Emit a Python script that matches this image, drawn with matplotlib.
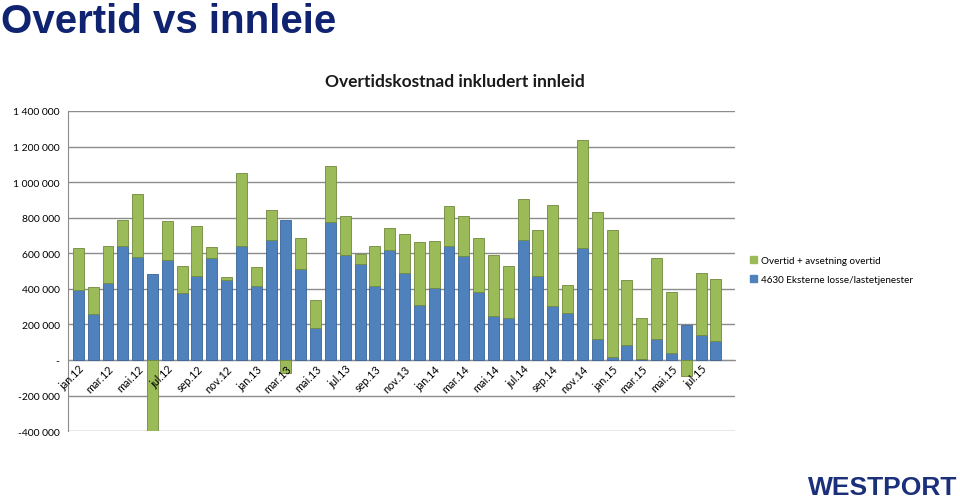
import matplotlib
matplotlib.use("Agg")
import matplotlib.pyplot as plt
import numpy as np
from matplotlib.patches import Patch

months = ["jan.12","feb.12","mar.12","apr.12","mai.12","jun.12","jul.12","aug.12","sep.12","okt.12","nov.12","des.12",
          "jan.13","feb.13","mar.13","apr.13","mai.13","jun.13","jul.13","aug.13","sep.13","okt.13","nov.13","des.13",
          "jan.14","feb.14","mar.14","apr.14","mai.14","jun.14","jul.14","aug.14","sep.14","okt.14","nov.14","des.14",
          "jan.15","feb.15","mar.15","apr.15","mai.15","jun.15","jul.15","aug.15"]

eksterne = [396000, 256000, 435000, 639000, 579000, 486000, 561000, 378000, 471000, 574000, 449000, 639000,
            415000, 673000, 785000, 512000, 178000, 776000, 592000, 542000, 417000, 620000, 492000, 307000,
            406000, 643000, 583000, 381000, 249000, 234000, 677000, 471000, 305000, 264000, 632000, 116000,
            19000, 84000, 6000, 116000, 39000, 198000, 142000, 107000]

overtid = [234000, 155000, 204000, 150000, 355000, -400000, 218000, 151000, 284000, 62000, 19000, 415000,
           108000, 168000, -71000, 176000, 162000, 312000, 215000, 52000, 226000, 124000, 218000, 357000,
           263000, 222000, 224000, 305000, 344000, 293000, 228000, 258000, 564000, 155000, 607000, 718000,
           710000, 368000, 228000, 460000, 342000, -88000, 346000, 351000]

yticks = [-400000, -200000, 0, 200000, 400000, 600000, 800000, 1000000, 1200000, 1400000]
ytick_labels = ["-400 000", "-200 000", "-", "200 000", "400 000", "600 000", "800 000",
                "1 000 000", "1 200 000", "1 400 000"]

legend_labels = ["Overtid + avsetning overtid", "4630 Eksterne losse/lastetjenester"]

BLUE = "#4F81BD"
GREEN = "#9BBB59"
NAVY = "#0F2370"
FONT = ["Lato", "DejaVu Sans"]

fig = plt.figure(figsize=(9.6, 5.02), dpi=100)
ax = fig.add_axes([0.0708, 0.139, 0.695, 0.638])

x = np.arange(len(months))
eks = np.array(eksterne, dtype=float)
ovt = np.array(overtid, dtype=float)
bottom_green = np.where(ovt >= 0, eks, 0)

w = 0.74
ax.bar(x, eks, width=w, color=BLUE, edgecolor="#3A6496", linewidth=0.6, zorder=3)
ax.bar(x, ovt, width=w, bottom=bottom_green, color=GREEN, edgecolor="#71893F", linewidth=0.6, zorder=3)

ax.set_xlim(-0.7, 44.3)
ax.set_ylim(-400000, 1400000)
ax.set_yticks(yticks)
ax.set_yticklabels(ytick_labels, fontsize=7.5, family=FONT)
ax.grid(axis="y", color="#8C8C8C", linewidth=1.0)
ax.set_axisbelow(True)

for s in ["top", "right"]:
    ax.spines[s].set_visible(False)
ax.spines["left"].set_color("#8C8C8C")
ax.spines["bottom"].set_position(("data", 0))
ax.spines["bottom"].set_color("#8C8C8C")
ax.tick_params(axis="y", length=0, pad=6)
ax.tick_params(axis="x", length=0, pad=2)

ax.set_xticks(x[::2])
ax.set_xticklabels(months[::2], rotation=45, ha="right", va="top", rotation_mode="anchor",
                   fontsize=7.8, family=FONT)
ax.xaxis.set_zorder(5)

handles = [Patch(facecolor=GREEN, edgecolor=GREEN), Patch(facecolor=BLUE, edgecolor=BLUE)]
fig.legend(handles, legend_labels, loc="upper left", bbox_to_anchor=(0.772, 0.506),
           frameon=False, prop={"family": FONT, "size": 7.1}, handlelength=0.7, handleheight=0.7,
           handletextpad=0.4, labelspacing=1.0)

fig.text(0.001, 0.934, "Overtid vs innleie", ha="left", va="baseline", fontsize=29, fontweight="bold",
         color=NAVY, family=["Liberation Sans", "DejaVu Sans"])
fig.text(0.474, 0.837, "Overtidskostnad inkludert innleid", ha="center", va="center", fontsize=12.5,
         fontweight="bold", color="#1A1A1A", family=FONT)
fig.text(0.997, 0.003, "WESTPORT", ha="right", va="bottom", fontsize=19, fontweight="heavy",
         color="#1B2F7A", family=["Liberation Sans", "DejaVu Sans"])

fig.savefig("out.png", dpi=100)
